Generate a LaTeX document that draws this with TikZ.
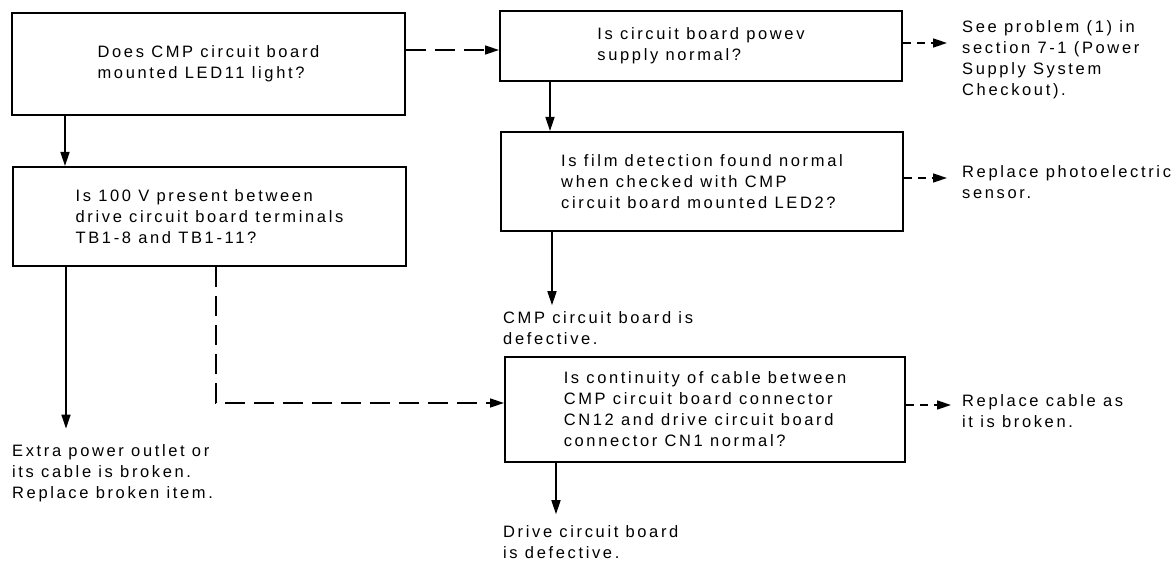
\documentclass[tikz,border=0pt]{standalone}
\usepackage{fontspec}
\setmainfont{Liberation Sans}[LetterSpace=16]
\usetikzlibrary{arrows.meta}
\begin{document}
\begin{tikzpicture}[x=1pt,y=-1pt,
  every node/.style={font=\fontsize{16.5}{21}\selectfont},
  box/.style={draw, line width=2pt, inner sep=0pt, align=left},
  txt/.style={inner sep=0pt, align=left, anchor=west},
  arr/.style={line width=1.6pt, -{Triangle[length=14pt,width=9pt]}},
  darr/.style={arr, dash pattern=on 20pt off 9pt},
  sdarr/.style={arr, dash pattern=on 8pt off 6pt}]
\useasboundingbox (0,0) rectangle (1173,564);

\node[box, minimum width=393pt, minimum height=102pt] (A) at (208.5,64)
  {Does CMP circuit board\\mounted LED11 light?};
\node[box, minimum width=393pt, minimum height=99pt] (B) at (209.5,216.5)
  {Is 100 V present between\\drive circuit board terminals\\TB1-8 and TB1-11?};
\node[box, minimum width=402pt, minimum height=70pt] (C) at (701,46)
  {Is circuit board powev\\supply normal?};
\node[box, minimum width=402pt, minimum height=99pt] (D) at (702,181.5)
  {Is film detection found normal\\when checked with CMP\\circuit board mounted LED2?};
\node[box, minimum width=400pt, minimum height=105pt] (E) at (705,409.5)
  {Is continuity of cable between\\CMP circuit board connector\\CN12 and drive circuit board\\connector CN1 normal?};

\node[txt] (P1) at (962,60) {See problem (1) in\\section 7-1 (Power\\Supply System\\Checkout).};
\node[txt] (P2) at (962,182.5) {Replace photoelectric\\sensor.};
\node[txt] (P3) at (962,411) {Replace cable as\\it is broken.};
\node[txt] (P4) at (503,328) {CMP circuit board is\\defective.};
\node[txt] (P5) at (503,542) {Drive circuit board\\is defective.};
\node[txt] (P6) at (12,473.5) {Extra power outlet or\\its cable is broken.\\Replace broken item.};

% solid connectors
\draw[arr] ([xshift=54pt]A.south west) -- ([xshift=54pt]A.south west |- B.north);
\draw[arr] ([xshift=51pt]C.south west) -- ([xshift=51pt]C.south west |- D.north);
\draw[arr, shorten >=6pt] ([xshift=52pt]D.south west) -- ([xshift=52pt]D.south west |- P4.north);
\draw[arr, shorten >=16pt] ([xshift=54pt]B.south west) -- ([xshift=54pt]B.south west |- P6.north);
\draw[arr, shorten >=11pt] ([xshift=52pt]E.south west) -- ([xshift=52pt]E.south west |- P5.north);

% dashed connectors
\draw[darr] ([yshift=14pt]A.east) -- ([yshift=14pt]A.east -| C.west);
\draw[darr] ([xshift=204pt]B.south west) |- ([yshift=6.5pt]E.west);
\draw[sdarr, shorten >=15pt] ([yshift=3pt]C.east) -- ([yshift=3pt]C.east -| P1.west);
\draw[sdarr, shorten >=15pt] ([yshift=3.5pt]D.east) -- ([yshift=3.5pt]D.east -| P2.west);
\draw[sdarr, shorten >=11pt] ([yshift=4.5pt]E.east) -- ([yshift=4.5pt]E.east -| P3.west);
\end{tikzpicture}
\end{document}
